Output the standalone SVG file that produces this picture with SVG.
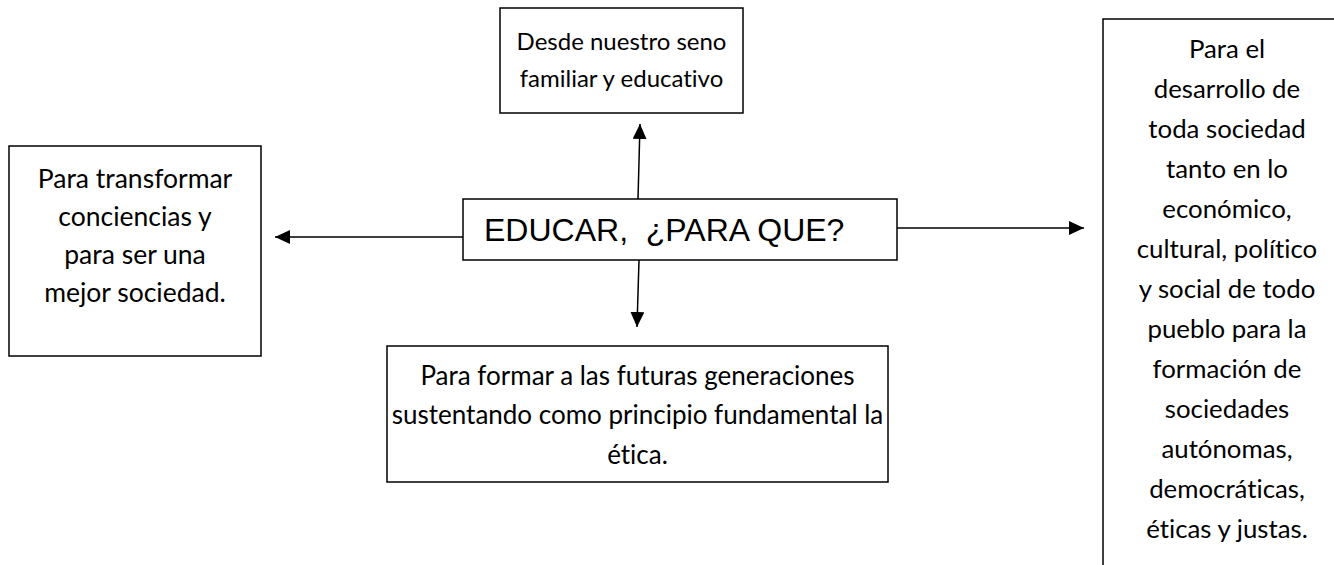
<svg xmlns="http://www.w3.org/2000/svg" width="1334" height="565" viewBox="0 0 1334 565">
<style>
.box{fill:#fff;stroke:#000;stroke-width:1.5}
.t{font-family:Lato,"Liberation Sans",sans-serif;font-size:26.5px;fill:#000;text-anchor:middle;font-variant-ligatures:none;font-feature-settings:"liga" 0,"dlig" 0}
.s{font-size:24px}
.r{font-size:25.8px}
.b{font-size:26px}
.c{font-family:"Liberation Sans",Arial,sans-serif;font-size:32px;fill:#000;white-space:pre}
.ln{stroke:#000;stroke-width:1.5;fill:none;marker-end:url(#ah)}
</style>
<defs>
<marker id="ah" markerUnits="userSpaceOnUse" markerWidth="16" markerHeight="16" refX="15" refY="7" orient="auto">
<path d="M0,0 L15,7 L0,14 Z" fill="#000"/>
</marker>
</defs>
<rect width="1334" height="565" fill="#fff"/>
<g id="connectors">
<line class="ln" x1="638" y1="199" x2="640" y2="124"/>
<line class="ln" x1="639" y1="260" x2="637" y2="327"/>
<line class="ln" x1="463" y1="237" x2="275" y2="237"/>
<line class="ln" x1="897" y1="228" x2="1084" y2="228"/>
</g>
<g id="center">
<rect class="box" x="463" y="199" width="434" height="61"/>
<text class="c" x="484" y="241" xml:space="preserve">EDUCAR,  ¿PARA QUE?</text>
</g>
<g id="top">
<rect class="box" x="500" y="8" width="243" height="105"/>
<text class="t s" x="621.5" y="50">Desde nuestro seno</text>
<text class="t s" x="621.5" y="87">familiar y educativo</text>
</g>
<g id="left">
<rect class="box" x="9" y="146" width="252" height="210"/>
<text class="t" x="135" y="188">Para transformar</text>
<text class="t" x="135" y="226">conciencias y</text>
<text class="t" x="135" y="264">para ser una</text>
<text class="t" x="135" y="302">mejor sociedad.</text>
</g>
<g id="bottom">
<rect class="box" x="387" y="346" width="501" height="136"/>
<text class="t b" x="637.5" y="385">Para formar a las futuras generaciones</text>
<text class="t b" x="637.5" y="424">sustentando como principio fundamental la</text>
<text class="t b" x="637.5" y="464">ética.</text>
</g>
<g id="right">
<rect class="box" x="1103" y="19" width="245" height="560"/>
<text class="t r" x="1227" y="58">Para el</text>
<text class="t r" x="1227" y="98">desarrollo de</text>
<text class="t r" x="1227" y="138">toda sociedad</text>
<text class="t r" x="1227" y="178">tanto en lo</text>
<text class="t r" x="1227" y="218">económico,</text>
<text class="t r" x="1227" y="258">cultural, político</text>
<text class="t r" x="1227" y="298">y social de todo</text>
<text class="t r" x="1227" y="338">pueblo para la</text>
<text class="t r" x="1227" y="378">formación de</text>
<text class="t r" x="1227" y="418">sociedades</text>
<text class="t r" x="1227" y="458">autónomas,</text>
<text class="t r" x="1227" y="498">democráticas,</text>
<text class="t r" x="1227" y="538">éticas y justas.</text>
</g>
</svg>
